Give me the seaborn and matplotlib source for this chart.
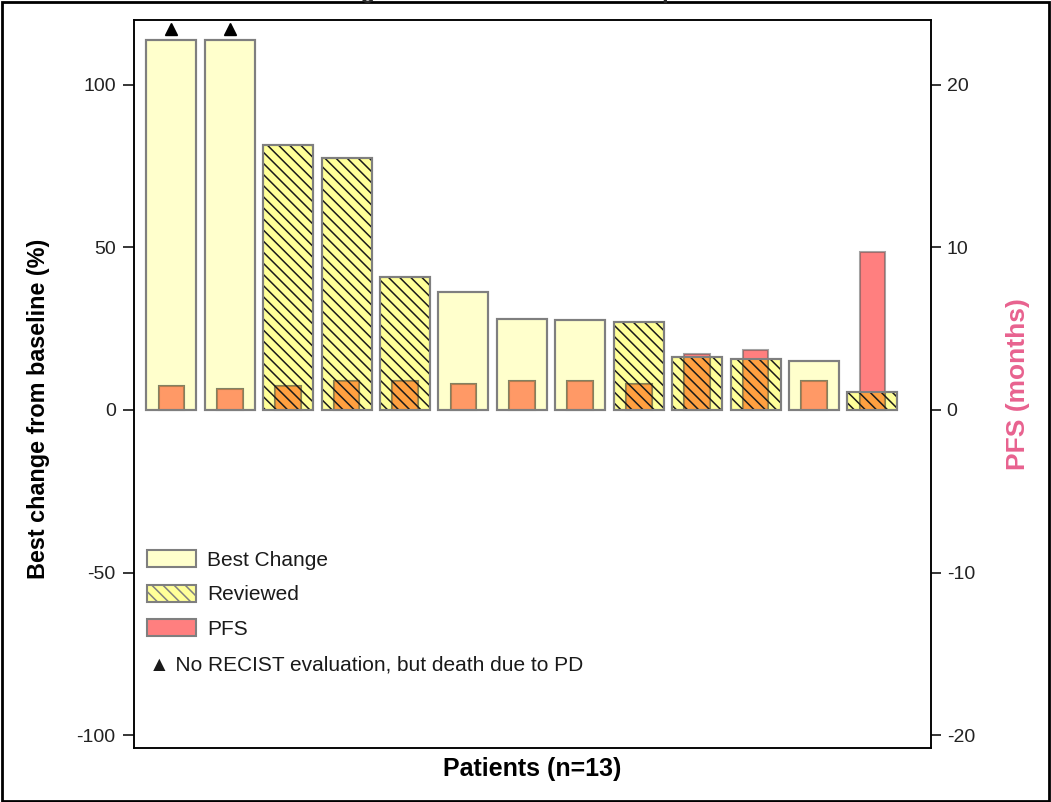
import numpy as np
import pandas as pd
import matplotlib
matplotlib.use("Agg")
import matplotlib.pyplot as plt
import matplotlib.transforms as mtransforms
from matplotlib.patches import Rectangle, Patch
import seaborn as sns

# ---- data -------------------------------------------------------------
patients = [f"{i:02d}" for i in range(1, 14)]
best_change = [113.8, 113.8, 81.5, 77.4, 40.8, 36.3, 28.0, 27.7, 27.1, 16.2, 15.8, 15.2, 5.4]
pfs_months = [1.50, 1.29, 1.50, 1.78, 1.78, 1.60, 1.78, 1.78, 1.60, 3.45, 3.67, 1.80, 9.70]
reviewed = [False, False, True, True, True, False, False, False, True, True, True, False, True]
no_recist = [True, True, False, False, False, False, False, False, False, False, False, False, False]

left_ticks = [-100, -50, 0, 50, 100]
right_ticks = [-20, -10, 0, 10, 20]

df = pd.DataFrame({"patient": patients, "best": best_change, "pfs": pfs_months,
                   "reviewed": reviewed, "no_recist": no_recist})

# ---- style ------------------------------------------------------------
sns.set_theme(style="white")
plt.rcParams["font.family"] = ["Liberation Sans", "DejaVu Sans"]
plt.rcParams["axes.unicode_minus"] = False
plt.rcParams["hatch.linewidth"] = 1.1

YELLOW = "#FFFFCC"
YELLOW_HATCHED = "#FFFF99"
PFS_RED = "#FF7F7F"
OVERLAP = "#FF9966"
OVERLAP_HATCHED = "#FFA040"
EDGE = "#7F7F7F"
PINK = "#E8628F"
HATCH = "\\\\\\"

fig = plt.figure(figsize=(10.51, 8.02), dpi=100)
ax = fig.add_axes([0.1275, 0.0673, 0.7581, 0.9078])

# best change bars
sns.barplot(data=df, x="patient", y="best", color=YELLOW, width=0.856,
            errorbar=None, edgecolor=EDGE, linewidth=1.5, saturation=1, ax=ax)
best_patches = list(ax.patches)
for p, rev in zip(best_patches, reviewed):
    p.set_facecolor(YELLOW_HATCHED if rev else YELLOW)

# PFS bars on the secondary axis
ax2 = ax.twinx()
sns.barplot(data=df, x="patient", y="pfs", color=PFS_RED, width=0.44,
            errorbar=None, edgecolor=(0.35, 0.35, 0.35, 0.55), linewidth=1.5,
            saturation=1, ax=ax2)
pfs_patches = list(ax2.patches)

# part of each PFS bar that sits inside its best-change bar
for pp, bp, rev in zip(pfs_patches, best_patches, reviewed):
    inner = Rectangle(pp.get_xy(), pp.get_width(), pp.get_height(),
                      transform=ax2.transData,
                      facecolor=OVERLAP_HATCHED if rev else OVERLAP,
                      edgecolor=(0.35, 0.35, 0.2, 0.45), linewidth=1.5, zorder=3)
    ax2.add_patch(inner)
    inner.set_clip_path(bp)

# hatching and outlines of the best-change bars drawn above the PFS bars
for bp, rev in zip(best_patches, reviewed):
    if rev:
        h = Rectangle(bp.get_xy(), bp.get_width(), bp.get_height(),
                      transform=ax.transData, fill=False, hatch=HATCH,
                      edgecolor="#1a1a1a", linewidth=0, zorder=4)
        ax2.add_patch(h)
    o = Rectangle(bp.get_xy(), bp.get_width(), bp.get_height(),
                  transform=ax.transData, fill=False, edgecolor=EDGE,
                  linewidth=1.5, zorder=5)
    ax2.add_patch(o)

# markers for patients without RECIST evaluation
idx = np.flatnonzero(no_recist)
marker_tr = mtransforms.offset_copy(ax.transData, fig=fig, y=11, units="dots")
ax.plot(idx, np.asarray(best_change)[idx], linestyle="none", marker="^",
        markersize=8.5, color="black", transform=marker_tr, clip_on=False, zorder=6)

# ---- axes -------------------------------------------------------------
ax.set_xlim(-0.64, 13.0)
ax.set_ylim(-104, 120)
ax2.set_ylim(-20.8, 24)
ax.set_yticks(left_ticks)
ax2.set_yticks(right_ticks)
ax.set_xticks([])
ax2.set_xticks([])

for a in (ax, ax2):
    for s in a.spines.values():
        s.set_color("black")
        s.set_linewidth(1.1)
ax.tick_params(axis="y", left=True, length=7.7, width=1.1, pad=5.5,
               labelsize=14, labelcolor="#222222", color="black")
ax2.tick_params(axis="y", right=True, length=7.2, width=1.1, pad=4.3,
                labelsize=14, labelcolor="#222222", color="black")

ax.set_xlabel("Patients (n=13)", fontsize=18, fontweight="bold", color="black")
ax.xaxis.set_label_coords(0.5, -0.012)
ax.set_ylabel("Best change from baseline (%)", fontsize=16.8, fontweight="bold", color="black")
ax.yaxis.set_label_coords(-0.105, 0.466)
ax2.set_ylabel("PFS (months)", fontsize=19, fontweight="bold", color=PINK)
ax2.yaxis.set_label_coords(1.095, 0.5)

# ---- legend -----------------------------------------------------------
handles = [
    Patch(facecolor=YELLOW, edgecolor=EDGE, linewidth=1.5, label="Best Change"),
    Patch(facecolor=YELLOW_HATCHED, edgecolor=EDGE, linewidth=1.5, hatch=HATCH, label="Reviewed"),
    Patch(facecolor=PFS_RED, edgecolor=EDGE, linewidth=1.5, label="PFS"),
]
leg = ax2.legend(handles=handles, loc="upper left", bbox_to_anchor=(0.016, 0.272),
                 frameon=False, fontsize=15, handlelength=2.35, handleheight=0.88,
                 labelspacing=0.72, handletextpad=0.55, borderpad=0, borderaxespad=0)
for t in leg.get_texts():
    t.set_color("#1a1a1a")
ax2.text(0.019, 0.114, "\u25B2 No RECIST evaluation, but death due to PD",
         transform=ax2.transAxes, fontsize=15, color="#1a1a1a", va="center",
         family=["Liberation Sans", "DejaVu Sans"])

# title (sits at the very top edge of the canvas)
fig.text(0.4795, 1.0025, "Tumor Change from Baseline and PFS per Patient",
         ha="center", va="baseline", fontsize=17.2, fontweight="bold")

# frame around the whole figure
fig.patches.append(Rectangle((0.002, 0.001), 0.996, 0.997, transform=fig.transFigure,
                             fill=False, edgecolor="black", linewidth=2))

fig.savefig("out.png", dpi=100)
